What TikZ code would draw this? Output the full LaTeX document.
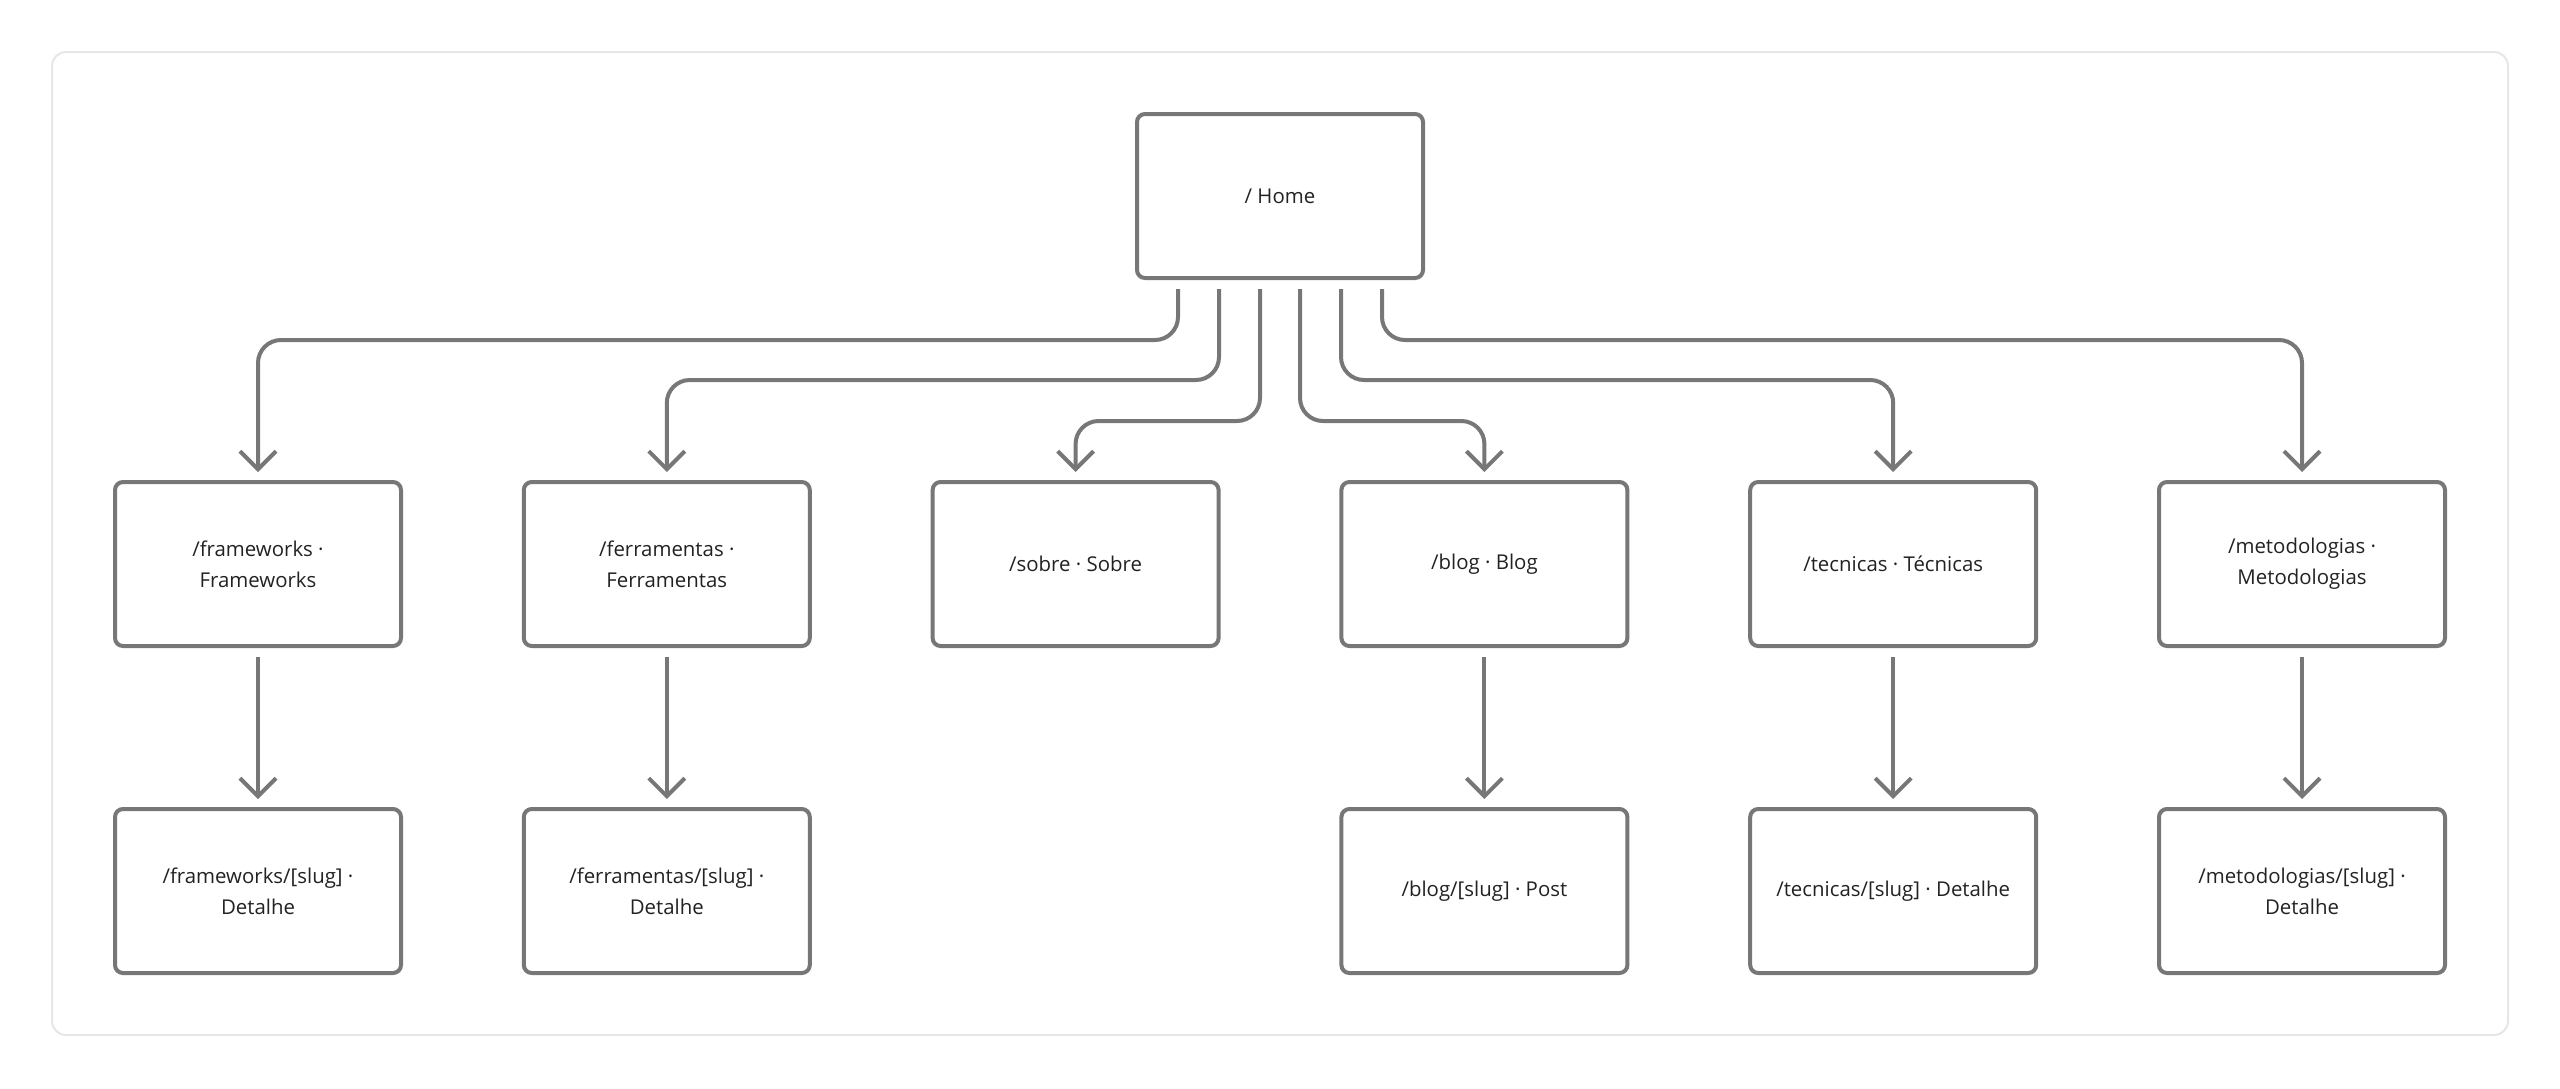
\documentclass[tikz,border=0pt]{standalone}
\usepackage{fontspec}
\setmainfont{Open Sans}
\usetikzlibrary{arrows.meta, positioning, calc}
\definecolor{linegray}{HTML}{777777}
\definecolor{framegray}{HTML}{E6E6E6}
\definecolor{textgray}{HTML}{222222}

\begin{document}
\begin{tikzpicture}[
    x=0.5pt, y=-0.5pt,
    page/.style={rectangle, draw=linegray, line width=2pt, rounded corners=4pt,
        minimum width=143pt, minimum height=82pt, inner sep=0pt, outer sep=0pt,
        align=center, text=textgray, font=\fontsize{10.2}{15.5}\selectfont},
    link/.style={draw=linegray, line width=2pt, rounded corners=11.5pt,
        -{Straight Barb[length=9pt, width=18pt]}, shorten >=5pt}
]
    \useasboundingbox (0,0) rectangle (2560,1088);
    \draw[framegray, line width=1pt, rounded corners=7pt] (52,52) rectangle (2508,1035);

    % raiz
    \node[page] (home) at (1280,196) {/ Home};

    % primeiro nível
    \node[page] (fw) at (258,564) {/frameworks ·\\Frameworks};
    \node[page, right=61.4pt of fw] (fe) {/ferramentas ·\\Ferramentas};
    \node[page, right=61.4pt of fe] (so) {/sobre · Sobre};
    \node[page, right=61.4pt of so] (bl) {/blog · Blog};
    \node[page, right=61.4pt of bl] (te) {/tecnicas · Técnicas};
    \node[page, right=61.4pt of te] (me) {/metodologias ·\\Metodologias};

    % páginas de detalhe
    \node[page, below=81.5pt of fw] (fwd) {/frameworks/[slug] ·\\Detalhe};
    \node[page, below=81.5pt of fe] (fed) {/ferramentas/[slug] ·\\Detalhe};
    \node[page, below=81.5pt of bl] (blp) {/blog/[slug] · Post};
    \node[page, below=81.5pt of te] (ted) {/tecnicas/[slug] · Detalhe};
    \node[page, below=81.5pt of me] (med) {/metodologias/[slug] ·\\Detalhe};

    % saídas da raiz
    \coordinate (s1) at ($(home.south)+(-102,11)$);
    \coordinate (s2) at ($(home.south)+(-61,11)$);
    \coordinate (s3) at ($(home.south)+(-20,11)$);
    \coordinate (s4) at ($(home.south)+(20,11)$);
    \coordinate (s5) at ($(home.south)+(61,11)$);
    \coordinate (s6) at ($(home.south)+(102,11)$);

    \draw[link] (s1) -- ++(0,51) -| (fw.north);
    \draw[link] (s2) -- ++(0,91) -| (fe.north);
    \draw[link] (s3) -- ++(0,132) -| (so.north);
    \draw[link] (s4) -- ++(0,132) -| (bl.north);
    \draw[link] (s5) -- ++(0,91) -| (te.north);
    \draw[link] (s6) -- ++(0,51) -| (me.north);

    % segundo nível
    \draw[link, shorten <=5.5pt] (fw) -- (fwd);
    \draw[link, shorten <=5.5pt] (fe) -- (fed);
    \draw[link, shorten <=5.5pt] (bl) -- (blp);
    \draw[link, shorten <=5.5pt] (te) -- (ted);
    \draw[link, shorten <=5.5pt] (me) -- (med);
\end{tikzpicture}
\end{document}
